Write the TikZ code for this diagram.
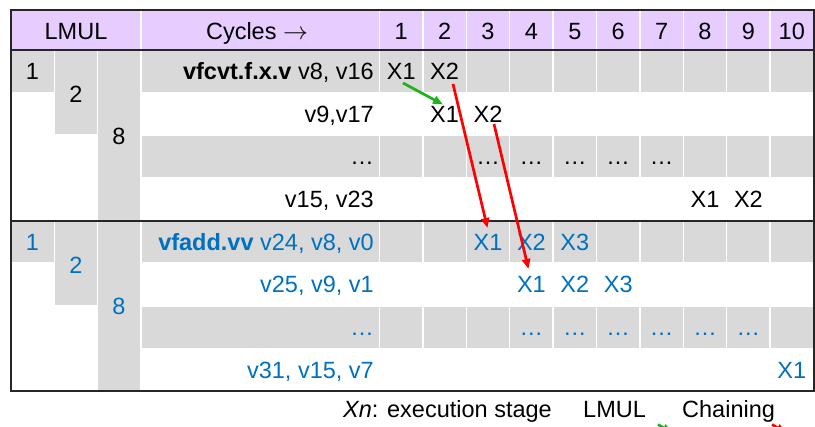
\documentclass[tikz,border=0pt]{standalone}
\usepackage{fontspec}
\setmainfont{Liberation Sans}
\usetikzlibrary{arrows.meta}
\definecolor{hdr}{HTML}{E6CCFF}
\definecolor{cellgray}{HTML}{D9D9D9}
\definecolor{blu}{HTML}{0070C0}
\definecolor{grn}{HTML}{1DB31D}
\definecolor{rd}{HTML}{FF0000}
\definecolor{framec}{HTML}{262626}
\begin{document}
\begin{tikzpicture}[x=1pt,y=-1pt,
  font=\fontsize{23.5}{28}\selectfont,
  graycell/.style={fill=cellgray, draw=white, line width=1.5pt},
  txt/.style={inner sep=0pt, anchor=base},
  instr/.style={inner sep=0pt, anchor=base east},
  frameline/.style={draw=framec, line width=2pt},
  chain/.style={rd, line width=2.7pt, -{Triangle[length=10pt,width=8pt]}},
  lmularrow/.style={grn, line width=2.7pt, -{Triangle[length=10pt,width=8pt]}}]
\useasboundingbox (0,0) rectangle (815,427);
\clip (0,0) rectangle (815,427);
% header
\fill[hdr] (11,10) rectangle (813.5,50);
\foreach \k in {0,...,9} {
  \pgfmathsetmacro{\xx}{379.5+43.4*\k}
  \draw[white, line width=1.5pt] (\xx,10) -- (\xx,50);
}
\draw[white, line width=1.5pt] (141,10) -- (141,50);
\node[txt] (hl) at (76,39.5) {LMUL};
\node[txt] (hc) at (257,39.5) {Cycles $\rightarrow$};
\foreach \k in {1,...,10} {
  \pgfmathsetmacro{\xx}{379.5+43.4*(\k-0.5)}
  \node[txt] (h\k) at (\xx,39.5) {\k};
}
% gray rows
\foreach \t/\b in {50/92.5, 135/177.5, 221/263, 306/348.5} {
  \path[graycell] (141,\t) rectangle (379.5,\b);
  \foreach \k in {0,...,9} {
    \pgfmathsetmacro{\xa}{379.5+43.4*\k}
    \pgfmathsetmacro{\xb}{379.5+43.4*(\k+1)}
    \path[graycell] (\xa,\t) rectangle (\xb,\b);
  }
}
% LMUL cells
\path[graycell] (11,50) rectangle (54.5,92.5);
\path[graycell] (54.5,50) rectangle (97.5,135);
\path[graycell] (97.5,50) rectangle (141,221);
\path[graycell] (11,221) rectangle (54.5,263);
\path[graycell] (54.5,221) rectangle (97.5,306);
\path[graycell] (97.5,221) rectangle (141,391.5);
\node[txt] (a1) at (32.5,79.7) {1};
\node[txt] (a2) at (76,103) {2};
\node[txt] (a8) at (119,144.5) {8};
\node[txt, blu] (b1) at (32.5,250.5) {1};
\node[txt, blu] (b2) at (76,274) {2};
\node[txt, blu] (b8) at (119,314.5) {8};
% instructions group 1
\node[instr] (i1) at (374,79.7) {\textbf{vfcvt.f.x.v} v8, v16};
\node[instr] (i2) at (374,122.2) {v9,v17};
\node[instr] (i3) at (374,164.7) {…};
\node[instr] (i4) at (374,207.7) {v15, v23};
% instructions group 2
\node[instr, blu] (j1) at (374,250.5) {\textbf{vfadd.vv} v24, v8, v0};
\node[instr, blu] (j2) at (374,293) {v25, v9, v1};
\node[instr, blu] (j3) at (374,335.7) {…};
\node[instr, blu] (j4) at (374,378.5) {v31, v15, v7};
% cycle entries
\newcommand{\cx}[1]{\pgfmathsetmacro{\xx}{379.5+43.4*(#1-0.5)}}
\cx{1}\node[txt] (p11) at (\xx,79.7) {X1};
\cx{2}\node[txt] (p12) at (\xx,79.7) {X2};
\cx{2}\node[txt] (p21) at (\xx,122.2) {X1};
\cx{3}\node[txt] (p22) at (\xx,122.2) {X2};
\foreach \k in {3,...,7} {\cx{\k}\node[txt] (p3\k) at (\xx,164.7) {…};}
\cx{8}\node[txt] (p41) at (\xx,207.7) {X1};
\cx{9}\node[txt] (p42) at (\xx,207.7) {X2};
\cx{3}\node[txt, blu] (q11) at (\xx,250.5) {X1};
\cx{4}\node[txt, blu] (q12) at (\xx,250.5) {X2};
\cx{5}\node[txt, blu] (q13) at (\xx,250.5) {X3};
\cx{4}\node[txt, blu] (q21) at (\xx,293) {X1};
\cx{5}\node[txt, blu] (q22) at (\xx,293) {X2};
\cx{6}\node[txt, blu] (q23) at (\xx,293) {X3};
\foreach \k in {4,...,9} {\cx{\k}\node[txt, blu] (q3\k) at (\xx,335.7) {…};}
\cx{10}\node[txt, blu] (q41) at (\xx,378.5) {X1};
% frame lines
\draw[frameline] (11,50) -- (813.5,50);
\draw[frameline] (11,221) -- (813.5,221);
\draw[frameline] (11,10) rectangle (813.5,391.5);
% arrows
\coordinate (gs) at (403,83);
\coordinate (ge) at (443,104.5);
\coordinate (r1s) at (453,84);
\coordinate (r1e) at (487.5,228);
\coordinate (r2s) at (494,124);
\coordinate (r2e) at (528.5,269);
\draw[lmularrow] (gs) -- (ge);
\draw[chain] (r1s) -- (r1e);
\draw[chain] (r2s) -- (r2e);
% legend
\node[txt, anchor=base west] (l1) at (343,418) {\textit{Xn}: execution stage};
\node[txt, anchor=base west] (l2) at (583,418) {LMUL};
\node[txt, anchor=base west] (l3) at (682,418) {Chaining};
\coordinate (lgs) at (658,424.5);
\coordinate (lge) at (672,433);
\coordinate (lrs) at (772,424.5);
\coordinate (lre) at (786,433);
\draw[lmularrow] (lgs) -- (lge);
\draw[chain] (lrs) -- (lre);
\end{tikzpicture}
\end{document}
